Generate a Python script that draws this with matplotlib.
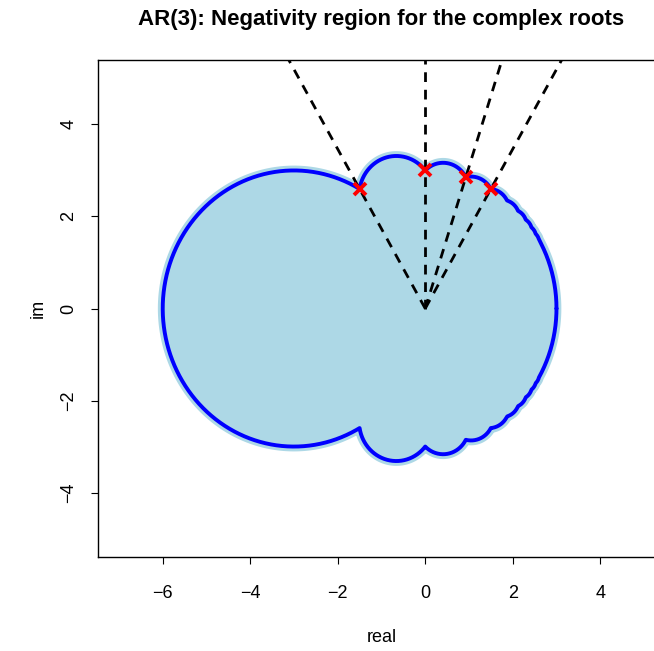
import numpy as np
import matplotlib.pyplot as plt

plt.rcParams['font.family'] = ['Liberation Sans', 'DejaVu Sans']

# cusp circle radius; marked cusps sit at angle 2*pi/k on it
cusp_radius = 3.0
cusp_k = [3, 4, 5, 6]

# left lobe: circle through the origin
lobe_center = (-3.0, 0.0)
lobe_radius = 3.0

# outer bumps between the cusps 2*pi/(k+1) and 2*pi/k (upper half)
bump_k = [3, 4, 5, 6, 7, 8, 9, 10, 11]
bump_peak_r = [3.40, 3.19, 3.09, 3.05, 3.033, 3.024, 3.018, 3.013, 3.01]
bump_peak_deg = [104.0, 83.0, 66.0, 55.7, 48.2, 42.5, 38.0, 34.4, 31.3]


def polar(r, deg):
    t = np.deg2rad(deg)
    return np.array([r * np.cos(t), r * np.sin(t)])


def arc_through(a, p, b, n=120):
    # circle through three points, swept from a to b passing p
    (x1, y1), (x2, y2), (x3, y3) = a, p, b
    d = 2 * (x1 * (y2 - y3) + x2 * (y3 - y1) + x3 * (y1 - y2))
    s1, s2, s3 = x1**2 + y1**2, x2**2 + y2**2, x3**2 + y3**2
    ux = (s1 * (y2 - y3) + s2 * (y3 - y1) + s3 * (y1 - y2)) / d
    uy = (s1 * (x3 - x2) + s2 * (x1 - x3) + s3 * (x2 - x1)) / d
    rad = np.hypot(x1 - ux, y1 - uy)
    ta = np.arctan2(y1 - uy, x1 - ux)
    tp = np.arctan2(y2 - uy, x2 - ux)
    tb = np.arctan2(y3 - uy, x3 - ux)
    dp = (tp - ta) % (2 * np.pi)
    db = (tb - ta) % (2 * np.pi)
    sweep = db if dp < db else db - 2 * np.pi
    t = ta + np.linspace(0, sweep, n)
    return ux + rad * np.cos(t), uy + rad * np.sin(t)


# upper half, counter-clockwise from the positive real axis
first_deg = 360.0 / (bump_k[-1] + 1)
t0 = np.deg2rad(np.linspace(0, first_deg, 60))
ux_, uy_ = [cusp_radius * np.cos(t0)], [cusp_radius * np.sin(t0)]
for k, pr, pd in reversed(list(zip(bump_k, bump_peak_r, bump_peak_deg))):
    a = polar(cusp_radius, 360.0 / (k + 1))
    b = polar(cusp_radius, 360.0 / k)
    xs, ys = arc_through(a, polar(pr, pd), b)
    ux_.append(xs[1:])
    uy_.append(ys[1:])
upper_x = np.concatenate(ux_)
upper_y = np.concatenate(uy_)

# left lobe from 120 to 240 degrees
lobe_a = polar(cusp_radius, 120)
lobe_b = polar(cusp_radius, 240)
lobe_p = (lobe_center[0] - lobe_radius, lobe_center[1])
lx, ly = arc_through(lobe_a, lobe_p, lobe_b, 300)

# full closed outline: upper half, lobe, mirrored lower half
bx = np.concatenate([upper_x, lx[1:-1], upper_x[::-1]])
by = np.concatenate([upper_y, ly[1:-1], -upper_y[::-1]])

fig = plt.figure(figsize=(6.54, 6.51), dpi=100)
ax = fig.add_axes([0.1498, 0.1444, 0.867, 0.7634])

ax.fill(bx, by, facecolor='lightblue', edgecolor='lightblue', lw=7,
        joinstyle='round', zorder=1)
ax.plot(bx, by, color='blue', lw=2.8, solid_joinstyle='round',
        solid_capstyle='round', zorder=2)

# rays from the origin through the marked cusps
for k in cusp_k:
    end = polar(12, 360.0 / k)
    ax.plot([0, end[0]], [0, end[1]], color='black', lw=2, ls='--',
            dashes=(3.5, 2.8), zorder=3)

mk = np.array([polar(cusp_radius, 360.0 / k) for k in cusp_k])
ax.plot(mk[:, 0], mk[:, 1], 'x', color='red', ms=8, mew=2.8, zorder=4)

ax.set_xlim(-7.48, 5.48)
ax.set_ylim(-5.4, 5.4)
ax.set_xticks([-6, -4, -2, 0, 2, 4])
ax.set_yticks([-4, -2, 0, 2, 4])
ax.set_xticklabels(['\u22126', '\u22124', '\u22122', '0', '2', '4'])
ax.set_yticklabels(['\u22124', '\u22122', '0', '2', '4'], rotation=90, va='center')
ax.tick_params(direction='out', length=5, width=0.8, labelsize=13)
ax.tick_params(axis='x', pad=15)
ax.tick_params(axis='y', pad=10)
for s in ax.spines.values():
    s.set_linewidth(1.0)

ax.set_xlabel('real', fontsize=13)
ax.xaxis.set_label_coords(0.5, -0.145)
ax.set_ylabel('im', fontsize=13)
ax.yaxis.label.set_va('center')
ax.yaxis.set_label_coords(-0.106, 0.5)
ax.set_title('AR(3): Negativity region for the complex roots',
             fontsize=16, fontweight='bold', pad=25)

fig.savefig('out.png', dpi=100)
